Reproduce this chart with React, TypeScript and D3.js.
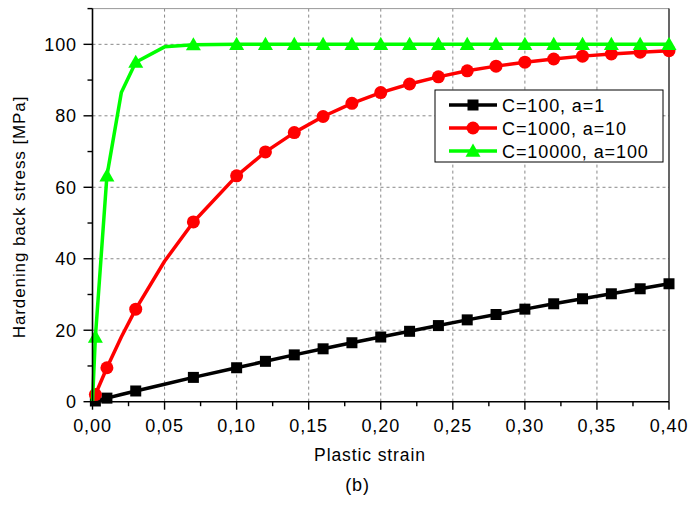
import React from "react";
import * as d3 from "d3";

// Plastic strain sample points shared by all three curves
const strain = [0, 0.002, 0.01, 0.02, 0.03, 0.05, 0.07, 0.1, 0.12, 0.14, 0.16, 0.18, 0.2, 0.22, 0.24, 0.26, 0.28, 0.3, 0.32, 0.34, 0.36, 0.38, 0.4];

// Back stress [MPa] for each parameter set
const stressC100 = [0, 0.2, 1.0, 2.0, 3.0, 4.9, 6.8, 9.5, 11.3, 13.1, 14.8, 16.5, 18.1, 19.7, 21.3, 22.9, 24.4, 25.9, 27.4, 28.8, 30.2, 31.6, 33.0];
const stressC1000 = [0, 2.0, 9.5, 18.1, 25.9, 39.3, 50.3, 63.2, 69.9, 75.3, 79.8, 83.5, 86.5, 88.9, 90.9, 92.6, 93.9, 95.0, 95.9, 96.7, 97.3, 97.8, 98.2];
const stressC10000 = [0, 18.1, 63.2, 86.5, 95.0, 99.3, 99.9, 100, 100, 100, 100, 100, 100, 100, 100, 100, 100, 100, 100, 100, 100, 100, 100];

// Strain values plotted as line vertices only (no symbol)
const unmarkedStrain = [0, 0.02, 0.05];

const seriesNames = ["C=100, a=1", "C=1000, a=10", "C=10000, a=100"];
const seriesColors = ["#000000", "#ff0000", "#00ff00"];
const seriesShapes = ["square", "circle", "triangle"];

const xTicks = [0, 0.05, 0.1, 0.15, 0.2, 0.25, 0.3, 0.35, 0.4];
const yTicks = [0, 20, 40, 60, 80, 100];

const W = 693;
const H = 505;
const FONT = "'Liberation Sans', Arial, sans-serif";
const LS = 0.9;

function Marker({ shape, x, y, color }: { shape: string; x: number; y: number; color: string }) {
  if (shape === "square") return <rect x={x - 5.5} y={y - 5.5} width={11} height={11} fill={color} />;
  if (shape === "circle") return <circle cx={x} cy={y} r={6.5} fill={color} />;
  const s = 7.5;
  return <path d={`M${x},${y - s}L${x + s},${y + s * 0.75}L${x - s},${y + s * 0.75}Z`} fill={color} />;
}

export default function App() {
  const x = d3.scaleLinear().domain([0, 0.4]).range([92.5, 669]);
  const y = d3.scaleLinear().domain([0, 110]).range([401.7, 8.6]);
  const fmtX = (v: number) => d3.format(".2f")(v).replace(".", ",");

  const all = [stressC100, stressC1000, stressC10000];
  const line = d3
    .line<number>()
    .x((_, i) => x(strain[i]))
    .y((v) => y(v));

  const xMinor = d3.range(0, 0.4001, 0.025).filter((_, i) => i % 2 === 1);
  const yMinor = [10, 30, 50, 70, 90, 110];

  return (
    <svg width={W} height={H} style={{ position: "absolute", left: 0, top: 0, background: "#fff" }}>
      <rect width={W} height={H} fill="#fff" />
      {/* grid */}
      {xTicks.slice(1, -1).map((t) => (
        <line key={"gx" + t} x1={x(t)} x2={x(t)} y1={y(110)} y2={y(0)} stroke="#888" strokeWidth={1} strokeDasharray="3,3" />
      ))}
      {yTicks.slice(1).map((t) => (
        <line key={"gy" + t} x1={x(0)} x2={x(0.4)} y1={y(t)} y2={y(t)} stroke="#888" strokeWidth={1} strokeDasharray="3,3" />
      ))}
      {/* frame */}
      <line x1={x(0)} x2={x(0.4)} y1={y(110)} y2={y(110)} stroke="#999" strokeWidth={1} />
      <line x1={x(0.4)} x2={x(0.4)} y1={y(110)} y2={y(0)} stroke="#000" strokeWidth={1.2} />

      {/* curves */}
      {all.map((vals, si) => (
        <g key={"s" + si}>
          <path d={line(vals) || ""} fill="none" stroke={seriesColors[si]} strokeWidth={3.5} strokeLinejoin="round" />
          {vals.map((v, i) =>
            unmarkedStrain.includes(strain[i]) ? null : (
              <Marker key={i} shape={seriesShapes[si]} x={x(strain[i])} y={y(v)} color={seriesColors[si]} />
            )
          )}
        </g>
      ))}

      {/* axes */}
      <line x1={x(0)} x2={x(0.4)} y1={y(0)} y2={y(0)} stroke="#000" strokeWidth={1.6} />
      <line x1={x(0)} x2={x(0)} y1={y(110)} y2={y(0)} stroke="#000" strokeWidth={1.6} />
      {xTicks.map((t) => (
        <g key={"xt" + t}>
          <line x1={x(t)} x2={x(t)} y1={y(0)} y2={y(0) + 8} stroke="#000" strokeWidth={1.4} />
          <text x={x(t)} y={432} textAnchor="middle" fontFamily={FONT} fontSize={18} letterSpacing={LS}>
            {fmtX(t)}
          </text>
        </g>
      ))}
      {xMinor.map((t) => (
        <line key={"xm" + t} x1={x(t)} x2={x(t)} y1={y(0)} y2={y(0) + 4.5} stroke="#000" strokeWidth={1.4} />
      ))}
      {yTicks.map((t) => (
        <g key={"yt" + t}>
          <line x1={x(0) - 9} x2={x(0)} y1={y(t)} y2={y(t)} stroke="#000" strokeWidth={1.4} />
          <text x={77} y={y(t) + 6.5} textAnchor="end" fontFamily={FONT} fontSize={18} letterSpacing={LS}>
            {t}
          </text>
        </g>
      ))}
      {yMinor.map((t) => (
        <line key={"ym" + t} x1={x(0) - 5} x2={x(0)} y1={y(t)} y2={y(t)} stroke="#000" strokeWidth={1.4} />
      ))}

      {/* axis titles */}
      <text x={370} y={461} textAnchor="middle" fontFamily={FONT} fontSize={17.5} letterSpacing={LS}>
        Plastic strain
      </text>
      <text x={357.5} y={491} textAnchor="middle" fontFamily={FONT} fontSize={18} letterSpacing={LS}>
        (b)
      </text>
      <text transform="translate(25,217) rotate(-90)" textAnchor="middle" fontFamily={FONT} fontSize={17} letterSpacing={LS}>
        Hardening back stress [MPa]
      </text>

      {/* legend */}
      <rect x={435} y={90} width={228} height={72} fill="#fff" stroke="#000" strokeWidth={1} />
      {seriesNames.map((n, i) => {
        const ry = 105 + i * 23;
        return (
          <g key={"lg" + i}>
            <line x1={449} x2={497} y1={ry} y2={ry} stroke={seriesColors[i]} strokeWidth={3.5} />
            <Marker shape={seriesShapes[i]} x={473} y={ry} color={seriesColors[i]} />
            <text x={502} y={ry + 6.5} fontFamily={FONT} fontSize={18} letterSpacing={LS}>
              {n}
            </text>
          </g>
        );
      })}
    </svg>
  );
}
